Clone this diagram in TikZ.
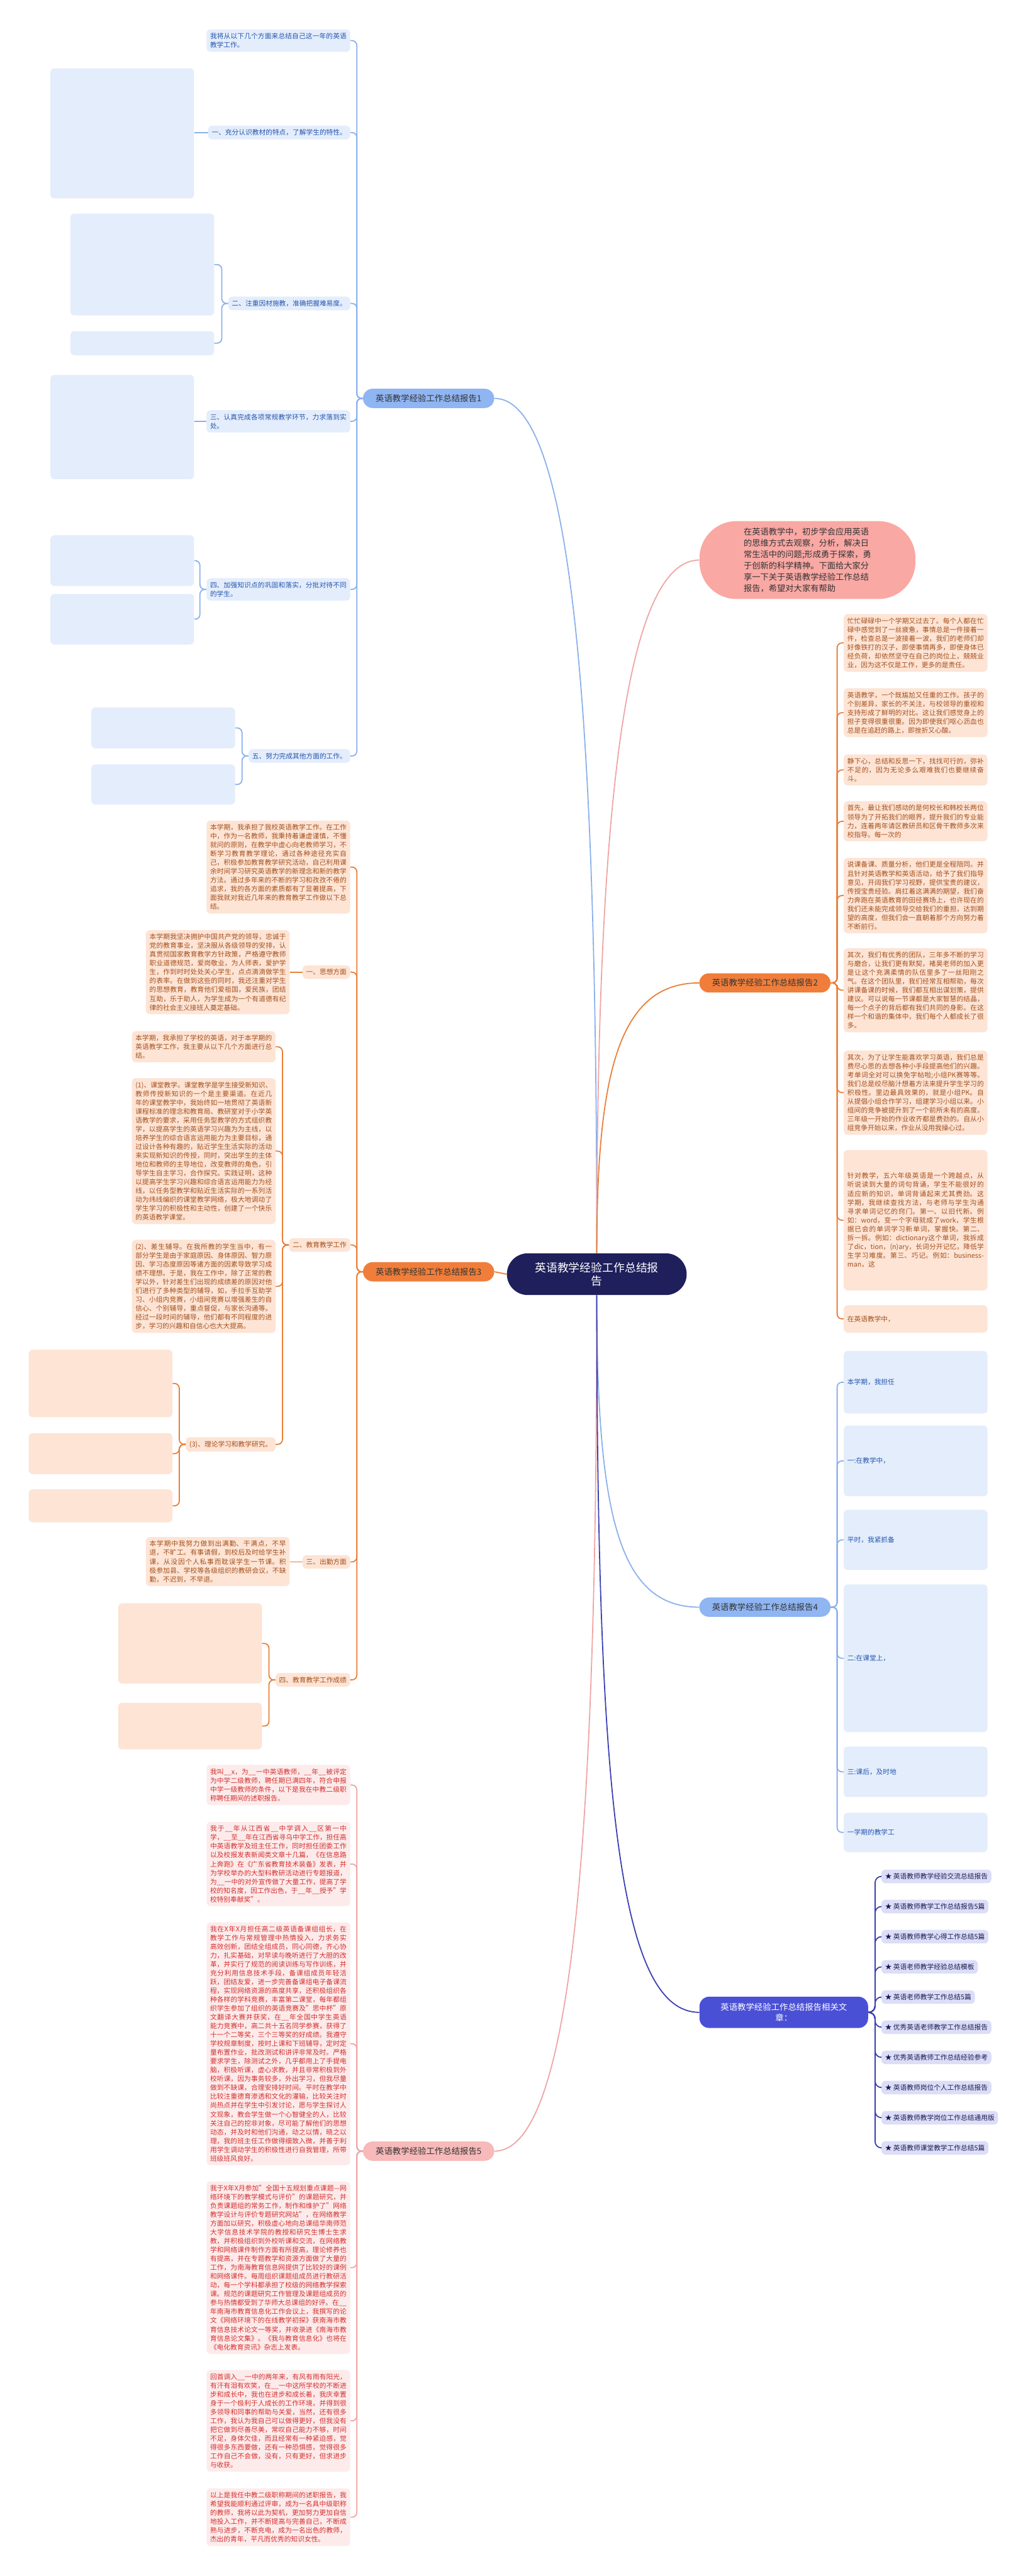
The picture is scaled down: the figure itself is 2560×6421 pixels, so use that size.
\documentclass[tikz,border=0pt]{standalone}
\usepackage{fontspec}
\setmainfont{Noto Sans CJK SC}
\XeTeXlinebreaklocale "zh"
\XeTeXlinebreakskip=0pt plus 1pt
\usetikzlibrary{positioning}
\definecolor{hubNavy}{HTML}{1F1F5C}
\definecolor{bluePill}{HTML}{8FB5F2}
\definecolor{blueLine}{HTML}{8AB0EC}
\definecolor{blueFill}{HTML}{E4EDFB}
\definecolor{blueText}{HTML}{2456B0}
\definecolor{orangePill}{HTML}{F07E3A}
\definecolor{orangeLine}{HTML}{EA7E36}
\definecolor{orangeFill}{HTML}{FDE4D5}
\definecolor{orangeText}{HTML}{A4501C}
\definecolor{pinkPill}{HTML}{F7B9B9}
\definecolor{pinkLine}{HTML}{F0A4A4}
\definecolor{pinkFill}{HTML}{FDEBEB}
\definecolor{pinkText}{HTML}{D2302E}
\definecolor{introFill}{HTML}{F9A8A4}
\definecolor{relPill}{HTML}{4A50D6}
\definecolor{relLine}{HTML}{3A3FB2}
\definecolor{relFill}{HTML}{DCDDF7}
\definecolor{relText}{HTML}{1A1A50}
\begin{document}
\begin{tikzpicture}[x=0.5pt, y=-0.5pt,
  pill/.style={rounded corners=12pt, minimum width=163.5pt, minimum height=24pt,
    inner sep=3pt, text=black!80, font=\fontsize{10.5pt}{12pt}\selectfont},
  leaf/.style={rounded corners=5pt, inner xsep=4.5pt, inner ysep=4.5pt,
    text width=170pt, align=justify, font=\fontsize{8.4pt}{11pt}\selectfont},
  tag/.style={rounded corners=5pt, inner xsep=4.5pt, inner ysep=4.5pt,
    font=\fontsize{8.4pt}{11pt}\selectfont},
  lb/.style={fill=blueFill, text=blueText},
  lo/.style={fill=orangeFill, text=orangeText},
  lp/.style={fill=pinkFill, text=pinkText},
  link/.style={line width=1.4pt, rounded corners=6pt},
  curve/.style={line width=1.4pt}
]
\useasboundingbox[fill=white] (0,0) rectangle (2560,6421);

% centre and main branches
\node[fill=hubNavy, text=white, rounded corners=26pt, minimum width=224pt, minimum height=52pt,
  align=center, font=\fontsize{14pt}{16pt}\selectfont] (hub) at (1487,3176)
  {英语教学经验工作总结报\\告};
\node[pill, fill=bluePill] (r1) at (1068,993) {英语教学经验工作总结报告1};
\node[pill, fill=orangePill] (r3) at (1068,3170) {英语教学经验工作总结报告3};
\node[pill, fill=pinkPill] (r5) at (1068,5362) {英语教学经验工作总结报告5};
\node[fill=introFill, rounded corners=46pt, minimum width=269pt, minimum height=97pt,
  align=left, text=black!80, font=\fontsize{10.4pt}{14pt}\selectfont] (intro) at (2012,1396)
  {在英语教学中，初步学会应用英语\\的思维方式去观察，分析，解决日\\常生活中的问题;形成勇于探索，勇\\于创新的科学精神。下面给大家分\\享一下关于英语教学经验工作总结\\报告，希望对大家有帮助};
\node[pill, fill=orangePill] (r2) at (1906,2450) {英语教学经验工作总结报告2};
\node[pill, fill=bluePill] (r4) at (1906,4006) {英语教学经验工作总结报告4};
\node[pill, fill=relPill, text=white, minimum width=210pt, minimum height=39pt, align=center,
  font=\fontsize{10.5pt}{13pt}\selectfont] (rel) at (1953,5016)
  {英语教学经验工作总结报告相关文\\章：};

\draw[curve, blueLine] (hub.north) .. controls +(0,-1300) and +(200,0) .. (r1.east);
\draw[curve, orangeLine] (hub.west) -- (r3.east);
\draw[curve, pinkLine] (hub.south) .. controls +(0,1300) and +(200,0) .. (r5.east);
\draw[curve, pinkLine] (hub.north) .. controls +(0,-1000) and +(-200,0) .. (intro.west);
\draw[curve, orangeLine] (hub.north) .. controls +(0,-450) and +(-200,0) .. (r2.west);
\draw[curve, blueLine] (hub.south) .. controls +(0,550) and +(-200,0) .. (r4.west);
\draw[curve, relLine] (hub.south) .. controls +(0,1250) and +(-200,0) .. (rel.west);

% report 1
\node[leaf, lb, anchor=north east] (r1x) at (873,73) {我将从以下几个方面来总结自己这一年的英语教学工作。};
\node[tag, lb, anchor=north east] (r1a) at (873,313) {一、充分认识教材的特点，了解学生的特性。};
\node[tag, lb, anchor=north east] (r1b) at (873,739) {二、注重因材施教，准确把握难易度。};
\node[leaf, lb, anchor=north east] (r1c) at (873,1022) {三、认真完成各项常规教学环节，力求落到实处。};
\node[leaf, lb, anchor=north east] (r1d) at (873,1441) {四、加强知识点的巩固和落实，分批对待不同的学生。};
\node[tag, lb, anchor=north east] (r1e) at (873,1867) {五、努力完成其他方面的工作。};
\foreach \k in {r1x,r1a,r1b,r1c,r1d,r1e}
  \draw[link, blueLine] (r1.west) -- ++(-15,0) |- (\k.east);

\node[leaf, lb, anchor=north east, minimum height=162pt] (r1a1) at (484,170) {};
\node[leaf, lb, anchor=north east, minimum height=127pt] (r1b1) at (534,532) {};
\node[leaf, lb, anchor=north east, minimum height=30pt] (r1b2) at (534,825) {};
\node[leaf, lb, anchor=north east, minimum height=130pt] (r1c1) at (484,934) {};
\node[leaf, lb, anchor=north east, minimum height=63pt] (r1d1) at (484,1334) {};
\node[leaf, lb, anchor=north east, minimum height=63pt] (r1d2) at (484,1480) {};
\node[leaf, lb, anchor=north east, minimum height=51pt] (r1e1) at (586,1763) {};
\node[leaf, lb, anchor=north east, minimum height=50pt] (r1e2) at (586,1905) {};
\draw[link, blueLine] (r1a.west) -- (r1a1.east |- r1a.west);
\draw[link, blueLine] (r1c.west) -- (r1c1.east |- r1c.west);
\foreach \p/\k in {r1b/r1b1,r1b/r1b2,r1d/r1d1,r1d/r1d2,r1e/r1e1,r1e/r1e2}
  \draw[link, blueLine] (\p.west) -- ++(-16,0) |- (\k.east);

% report 3
\node[leaf, lo, anchor=north east] (r3x) at (873,2045) {本学期，我承担了我校英语教学工作。在工作中，作为一名教师，我秉持着谦虚谨慎，不懂就问的原则，在教学中虚心向老教师学习，不断学习教育教学理论，通过各种途径充实自己，积极参加教育教学研究活动，自己利用课余时间学习研究英语教学的新理念和新的教学方法。通过多年来的不断的学习和孜孜不倦的追求，我的各方面的素质都有了显著提高，下面我就对我近几年来的教育教学工作做以下总结。};
\node[tag, lo, anchor=north east] (r3a) at (873,2406) {一、思想方面};
\node[tag, lo, anchor=north east] (r3b) at (873,3086) {二、教育教学工作};
\node[tag, lo, anchor=north east] (r3c) at (873,3876) {三、出勤方面};
\node[tag, lo, anchor=north east] (r3d) at (873,4170) {四、教育教学工作成绩};
\foreach \k in {r3x,r3a,r3b,r3c,r3d}
  \draw[link, orangeLine] (r3.west) -- ++(-15,0) |- (\k.east);

\node[leaf, lo, anchor=north east] (r3a1) at (722,2318) {本学期我坚决拥护中国共产党的领导，忠诚于党的教育事业，坚决服从各级领导的安排，认真贯彻国家教育教学方针政策，严格遵守教师职业道德规范，爱岗敬业，为人师表，爱护学生，作到时时处处关心学生，点点滴滴做学生的表率。在做到这些的同时，我还注重对学生的思想教育，教育他们爱祖国，爱民族，团结互助，乐于助人，为学生成为一个有道德有纪律的社会主义接班人奠定基础。};
\draw[link, orangeLine] (r3a.west) -- (r3a1.east |- r3a.west);

\node[leaf, lo, anchor=north east] (r3b1) at (687,2570) {本学期，我承担了学校的英语，对于本学期的英语教学工作，我主要从以下几个方面进行总结。};
\node[leaf, lo, anchor=north east] (r3b2) at (687,2687) {(1)、课堂教学。课堂教学是学生接受新知识、教师传授新知识的一个是主要渠道。在近几年的课堂教学中，我始终如一地贯彻了英语新课程标准的理念和教育局、教研室对于小学英语教学的要求，采用任务型教学的方式组织教学，以提高学生的英语学习兴趣为为主线，以培养学生的综合语言运用能力为主要目标，通过设计各种有趣的，贴近学生生活实际的活动来实现新知识的传授，同时，突出学生的主体地位和教师的主导地位，改变教师的角色，引导学生自主学习，合作探究。实践证明，这种以提高学生学习兴趣和综合语言运用能力为经线，以任务型教学和贴近生活实际的一系列活动为纬线编织的课堂教学网络，极大地调动了学生学习的积极性和主动性，创建了一个快乐的英语教学课堂。};
\node[leaf, lo, anchor=north east] (r3b3) at (687,3090) {(2)、差生辅导。在我所教的学生当中，有一部分学生是由于家庭原因、身体原因、智力原因、学习态度原因等诸方面的因素导致学习成绩不理想。于是，我在工作中，除了正常的教学以外，针对差生们出现的成绩差的原因对他们进行了多种类型的辅导，如，手拉手互助学习、小组内竞赛，小组间竞赛以增强差生的自信心、个别辅导，重点督促，与家长沟通等。经过一段时间的辅导，他们都有不同程度的进步，学习的兴趣和自信心也大大提高。};
\node[tag, lo, anchor=north east] (r3b4) at (687,3582) {(3)、理论学习和教学研究。};
\foreach \k in {r3b1,r3b2,r3b3,r3b4}
  \draw[link, orangeLine] (r3b.west) -- ++(-16,0) |- (\k.east);

\node[leaf, lo, anchor=north east, minimum height=84pt] (r3d1) at (430,3364) {};
\node[leaf, lo, anchor=north east, minimum height=51pt] (r3d2) at (430,3572) {};
\node[leaf, lo, anchor=north east, minimum height=41pt] (r3d3) at (430,3712) {};
\foreach \k in {r3d1,r3d2,r3d3}
  \draw[link, orangeLine] (r3b4.west) -- ++(-16,0) |- (\k.east);

\node[leaf, lo, anchor=north east] (r3c1) at (722,3831) {本学期中我努力做到出满勤、干满点，不早退，不旷工。有事请假，到校后及时给学生补课，从没因个人私事而耽误学生一节课。积极参加县、学校等各级组织的教研会议，不缺勤，不迟到，不早退。};
\draw[link, orangeLine] (r3c.west) -- (r3c1.east |- r3c.west);

\node[leaf, lo, anchor=north east, minimum height=100pt] (r3e1) at (653,3996) {};
\node[leaf, lo, anchor=north east, minimum height=58pt] (r3e2) at (653,4244) {};
\foreach \k in {r3e1,r3e2}
  \draw[link, orangeLine] (r3d.west) -- ++(-16,0) |- (\k.east);

% report 2
\node[leaf, lo, anchor=north west] (r2a) at (2102,1530) {忙忙碌碌中一个学期又过去了。每个人都在忙碌中感觉到了一丝疲惫，事情总是一件接着一件，检查总是一波接着一波，我们的老师们却好像铁打的汉子，即使事情再多，即使身体已经负荷，却依然坚守在自己的岗位上，兢兢业业，因为这不仅是工作，更多的是责任。};
\node[leaf, lo, anchor=north west] (r2b) at (2102,1715) {英语教学，一个既尴尬又任重的工作。孩子的个别差异，家长的不关注，与校领导的重视和支持形成了鲜明的对比。这让我们感觉身上的担子变得很重很重。因为即使我们呕心沥血也总是在追赶的路上，即挫折又心酸。};
\node[leaf, lo, anchor=north west] (r2c) at (2102,1880) {静下心，总结和反思一下，找找可行的，弥补不足的，因为无论多么艰难我们也要继续奋斗。};
\node[leaf, lo, anchor=north west] (r2d) at (2102,1997) {首先，最让我们感动的是何校长和韩校长两位领导为了开拓我们的眼界，提升我们的专业能力，连着两年请区教研员和区骨干教师多次来校指导。每一次的};
\node[leaf, lo, anchor=north west] (r2e) at (2102,2138) {说课备课、质量分析，他们更是全程陪同。并且针对英语教学和英语活动，给予了我们指导意见，开阔我们学习视野，提供宝贵的建议，传授宝贵经验。肩扛着这满满的期望，我们奋力奔跑在英语教育的田径赛场上，也许现在的我们还未能完成领导交给我们的重担，达到期望的高度，但我们会一直朝着那个方向努力着不断前行。};
\node[leaf, lo, anchor=north west] (r2f) at (2102,2363) {其次，我们有优秀的团队，三年多不断的学习与磨合，让我们更有默契，褚昊老师的加入更是让这个充满柔情的队伍里多了一丝阳刚之气。在这个团队里，我们经常互相帮助，每次讲课备课的时候，我们都互相出谋划策，提供建议。可以说每一节课都是大家智慧的结晶，每一个点子的背后都有我们共同的身影。在这样一个和谐的集体中，我们每个人都成长了很多。};
\node[leaf, lo, anchor=north west] (r2g) at (2102,2618) {其次，为了让学生能喜欢学习英语，我们总是费尽心思的去想各种小手段提高他们的兴趣。考单词全对可以换免字帖啦;小组PK赛等等。我们总是绞尽脑汁想着方法来提升学生学习的积极性。里边最具效果的，就是小组PK。自从提倡小组合作学习，组建学习小组以来。小组间的竞争被提升到了一个前所未有的高度。三年级一开始的作业收齐都是费劲的。自从小组竞争开始以来，作业从没用我操心过。};
\node[leaf, lo, anchor=north west, minimum height=175pt] (r2h) at (2102,2866) {针对教学，五六年级英语是一个跨越点，从听说读到大量的词句背诵，学生不能很好的适应新的知识，单词背诵起来尤其费劲。这学期，我继续查找方法，与老师与学生沟通寻求单词记忆的窍门。第一、以旧代新。例如：word，变一个字母就成了work，学生根据已会的单词学习新单词，掌握快。第二、拆一拆。例如：dictionary这个单词，我拆成了dic，tion，(n)ary，长词分开记忆，降低学生学习难度。第三、巧记。例如：businessman，这};
\node[leaf, lo, anchor=north west, minimum height=34pt] (r2i) at (2102,3253) {在英语教学中，};
\foreach \k in {r2a,r2b,r2c,r2d,r2e,r2f,r2g,r2h,r2i}
  \draw[link, orangeLine] (r2.east) -- ++(16,0) |- (\k.west);

% report 4
\node[leaf, lb, anchor=north west, minimum height=78pt] (r4a) at (2102,3367) {本学期，我担任};
\node[leaf, lb, anchor=north west, minimum height=88pt] (r4b) at (2102,3553) {一:在教学中，};
\node[leaf, lb, anchor=north west, minimum height=75pt] (r4c) at (2102,3763) {平时，我紧抓备};
\node[leaf, lb, anchor=north west, minimum height=184pt] (r4d) at (2102,3949) {二:在课堂上，};
\node[leaf, lb, anchor=north west, minimum height=63pt] (r4e) at (2102,4353) {三:课后，及时地};
\node[leaf, lb, anchor=north west, minimum height=49pt] (r4f) at (2102,4518) {一学期的教学工};
\foreach \k in {r4a,r4b,r4c,r4d,r4e,r4f}
  \draw[link, blueLine] (r4.east) -- ++(16,0) |- (\k.west);

% report 5
\node[leaf, lp, anchor=north east] (r5a) at (873,4399) {我叫\_\_x，为\_\_一中英语教师，\_\_年\_\_被评定为中学二级教师，聘任期已满四年，符合申报中学一级教师的条件，以下是我在中教二级职称聘任期间的述职报告。};
\node[leaf, lp, anchor=north east] (r5b) at (873,4541) {我于\_\_年从江西省\_\_中学调入\_\_区第一中学，\_\_至\_\_年在江西省寻乌中学工作，担任高中英语教学及班主任工作，同时担任团委工作以及校报发表新闻类文章十几篇，《在信息路上奔跑》在《广东省教育技术装备》发表，并为学校举办的大型科教研活动进行专题报道，为\_\_一中的对外宣传做了大量工作，提高了学校的知名度，因工作出色，于\_\_年\_\_授予"学校特别奉献奖"。};
\node[leaf, lp, anchor=north east] (r5c) at (873,4791) {我在X年X月担任高二级英语备课组组长，在教学工作与常规管理中热情投入，力求务实高效创新，团结全组成员，同心同德，齐心协力，扎实基础，对早读与晚听进行了大胆的改革，并实行了规范的阅读训练与写作训练，并充分利用信息技术手段，备课组成员年轻活跃，团结友爱，进一步完善备课组电子备课流程，实现网络资源的高度共享，还积极组织各种各样的学科竞赛，丰富第二课堂，每年都组织学生参加了组织的英语竞赛及"思中杯"原文翻译大赛并获奖，在\_\_年全国中学生英语能力竞赛中，高二共十五名同学参赛，获得了十一个二等奖，三个三等奖的好成绩。我遵守学校规章制度，按时上课和下班辅导，定时定量布置作业，批改测试和讲评非常及时。严格要求学生，除测试之外，几乎都用上了手提电脑，积极听课，虚心求教，并且非常积极到外校听课，因为事务较多，外出学习，但我尽量做到不缺课，合理安排好时间。平时在教学中比较注重德育渗透和文化的灌输，比较关注时尚热点并在学生中引发讨论，愿与学生探讨人文现象，教会学生做一个心智健全的人，比较关注自己的挖非对象，尽可能了解他们的思想动态，并及时和他们沟通，动之以情，晓之以理，我的班主任工作做得细致入微，并善于利用学生调动学生的积极性进行自我管理，所带班级班风良好。};
\node[leaf, lp, anchor=north east] (r5d) at (873,5437) {我于X年X月参加"全国十五规划重点课题—网络环境下的教学模式与评价"的课题研究，并负责课题组的常务工作，制作和维护了"网络教学设计与评价专题研究网站"，在网络教学方面加以研究，积极虚心地向总课组华南师范大学信息技术学院的教授和研究生博士生求教，并积极组织到外校听课和交流，在网络教学和网络课件制作方面有所提高，理论修养也有提高，并在专题教学和资源方面做了大量的工作，为南海教育信息网提供了比较好的课例和网络课件。每周组织课题组成员进行教研活动，每一个学科都承担了校级的网络教学探索课。规范的课题研究工作管理及课题组成员的参与热情都受到了华师大总课组的好评。在\_\_年南海市教育信息化工作会议上，我撰写的论文《网络环境下的在线教学初探》获南海市教育信息技术论文一等奖，并收录进《南海市教育信息论文集》。《我与教育信息化》也将在《电化教育资讯》杂志上发表。};
\node[leaf, lp, anchor=north east] (r5e) at (873,5907) {回首调入\_\_一中的两年来，有风有雨有阳光，有汗有泪有欢笑，在\_\_一中这所学校的不断进步和成长中，我也在进步和成长着，我庆幸置身于一个极利于人成长的工作环境，并得到很多领导和同事的帮助与关爱，当然，还有很多工作，我认为我自己可以做得更好，但我没有把它做到尽善尽美，常叹自己能力不够，时间不足，身体欠佳，而且经常有一种紧迫感，觉得很多东西要做，还有一种恐惧感，觉得很多工作自己不会做，没有，只有更好，但求进步与收获。};
\node[leaf, lp, anchor=north east] (r5f) at (873,6202) {以上是我任中教二级职称期间的述职报告，我希望我能顺利通过评审，成为一名具中级职称的教师，我将以此为契机，更加努力更加自信地投入工作，并不断提高与完善自己，不断成熟与进步，不断充电，成为一名出色的教师，杰出的青年，平凡而优秀的知识女性。};
\foreach \k in {r5a,r5b,r5c,r5d,r5e,r5f}
  \draw[link, pinkLine] (r5.west) -- ++(-15,0) |- (\k.east);

% related articles
\foreach \t [count=\i from 0] in {英语教师教学经验交流总结报告, 英语教师教学工作总结报告5篇,
  英语教师教学心得工作总结5篇, 英语老师教学经验总结模板, 英语老师教学工作总结5篇,
  优秀英语老师教学工作总结报告, 优秀英语教师工作总结经验参考, 英语教师岗位个人工作总结报告,
  英语教师教学岗位工作总结通用版, 英语教师课堂教学工作总结5篇}
{
  \node[tag, fill=relFill, text=relText, anchor=west] (rel\i) at (2196,4677+75.2*\i) {★ \t};
  \draw[link, relLine, rounded corners=8pt] (rel.east) -- ++(17,0) |- (rel\i.west);
}
\end{tikzpicture}
\end{document}
